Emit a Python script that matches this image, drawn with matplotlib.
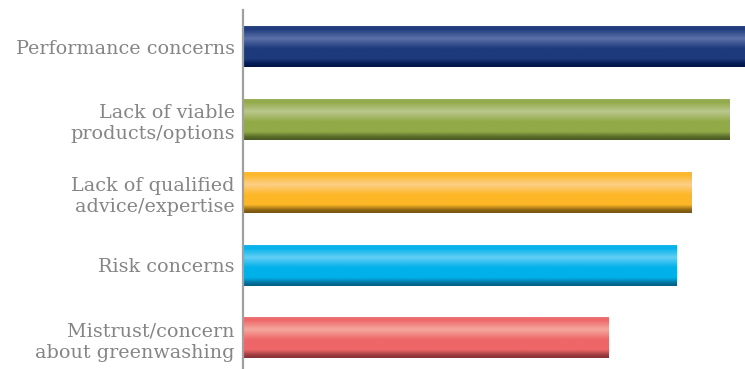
import numpy as np
import matplotlib.pyplot as plt
from matplotlib.colors import to_rgb

# ── data ────────────────────────────────────────────────────────────────────
categories = [
    "Performance concerns",
    "Lack of viable\nproducts/options",
    "Lack of qualified\nadvice/expertise",
    "Risk concerns",
    "Mistrust/concern\nabout greenwashing",
]
values = [66, 64, 59, 57, 48]

# (top edge, highlight, base, bottom shade) per bar
palettes = [
    ("#2c4585", "#5b70a9", "#1d3a7c", "#021a52"),
    ("#9aae58", "#bac88c", "#92aa47", "#57692a"),
    ("#fcbb35", "#fdcf88", "#fdb726", "#8e6414"),
    ("#1cb8ec", "#62cff5", "#00b1ea", "#03709c"),
    ("#ee7476", "#f5a89f", "#ee6668", "#9e3c40"),
]

# ── figure ──────────────────────────────────────────────────────────────────
fig = plt.figure(figsize=(7.45, 3.69), dpi=100)
ax = fig.add_axes([243 / 745, 0, 502 / 745, 359 / 369])

bar_h = 0.56
stops = [0.0, 0.06, 0.30, 0.55, 0.80, 0.93, 1.0]


def gradient(pal, n=80):
    top, hi, base, dark = [np.array(to_rgb(c)) for c in pal]
    cols = [top, base, hi, base, base, dark, dark * 0.85]
    t = np.linspace(0, 1, n)
    out = np.zeros((n, 1, 3))
    for ch in range(3):
        out[:, 0, ch] = np.interp(t, stops, [c[ch] for c in cols])
    return out


for i, (v, pal) in enumerate(zip(values, palettes)):
    ax.imshow(gradient(pal), extent=(0, v, i + bar_h / 2, i - bar_h / 2),
              aspect="auto", interpolation="bilinear", zorder=2)

ax.set_xlim(0, 66)
ax.set_ylim(4.426, -0.509)

ax.set_yticks(range(len(categories)))
ax.set_yticklabels(categories, fontfamily="DejaVu Serif", fontsize=13.8,
                   color="#858585", linespacing=1.25)
ax.tick_params(axis="y", length=0, pad=6)
ax.set_xticks([])

for s in ["top", "right", "bottom"]:
    ax.spines[s].set_visible(False)
ax.spines["left"].set_color("#a0a0a0")
ax.spines["left"].set_linewidth(1.6)
ax.spines["left"].set_zorder(3)

fig.savefig("out.png", dpi=100)
